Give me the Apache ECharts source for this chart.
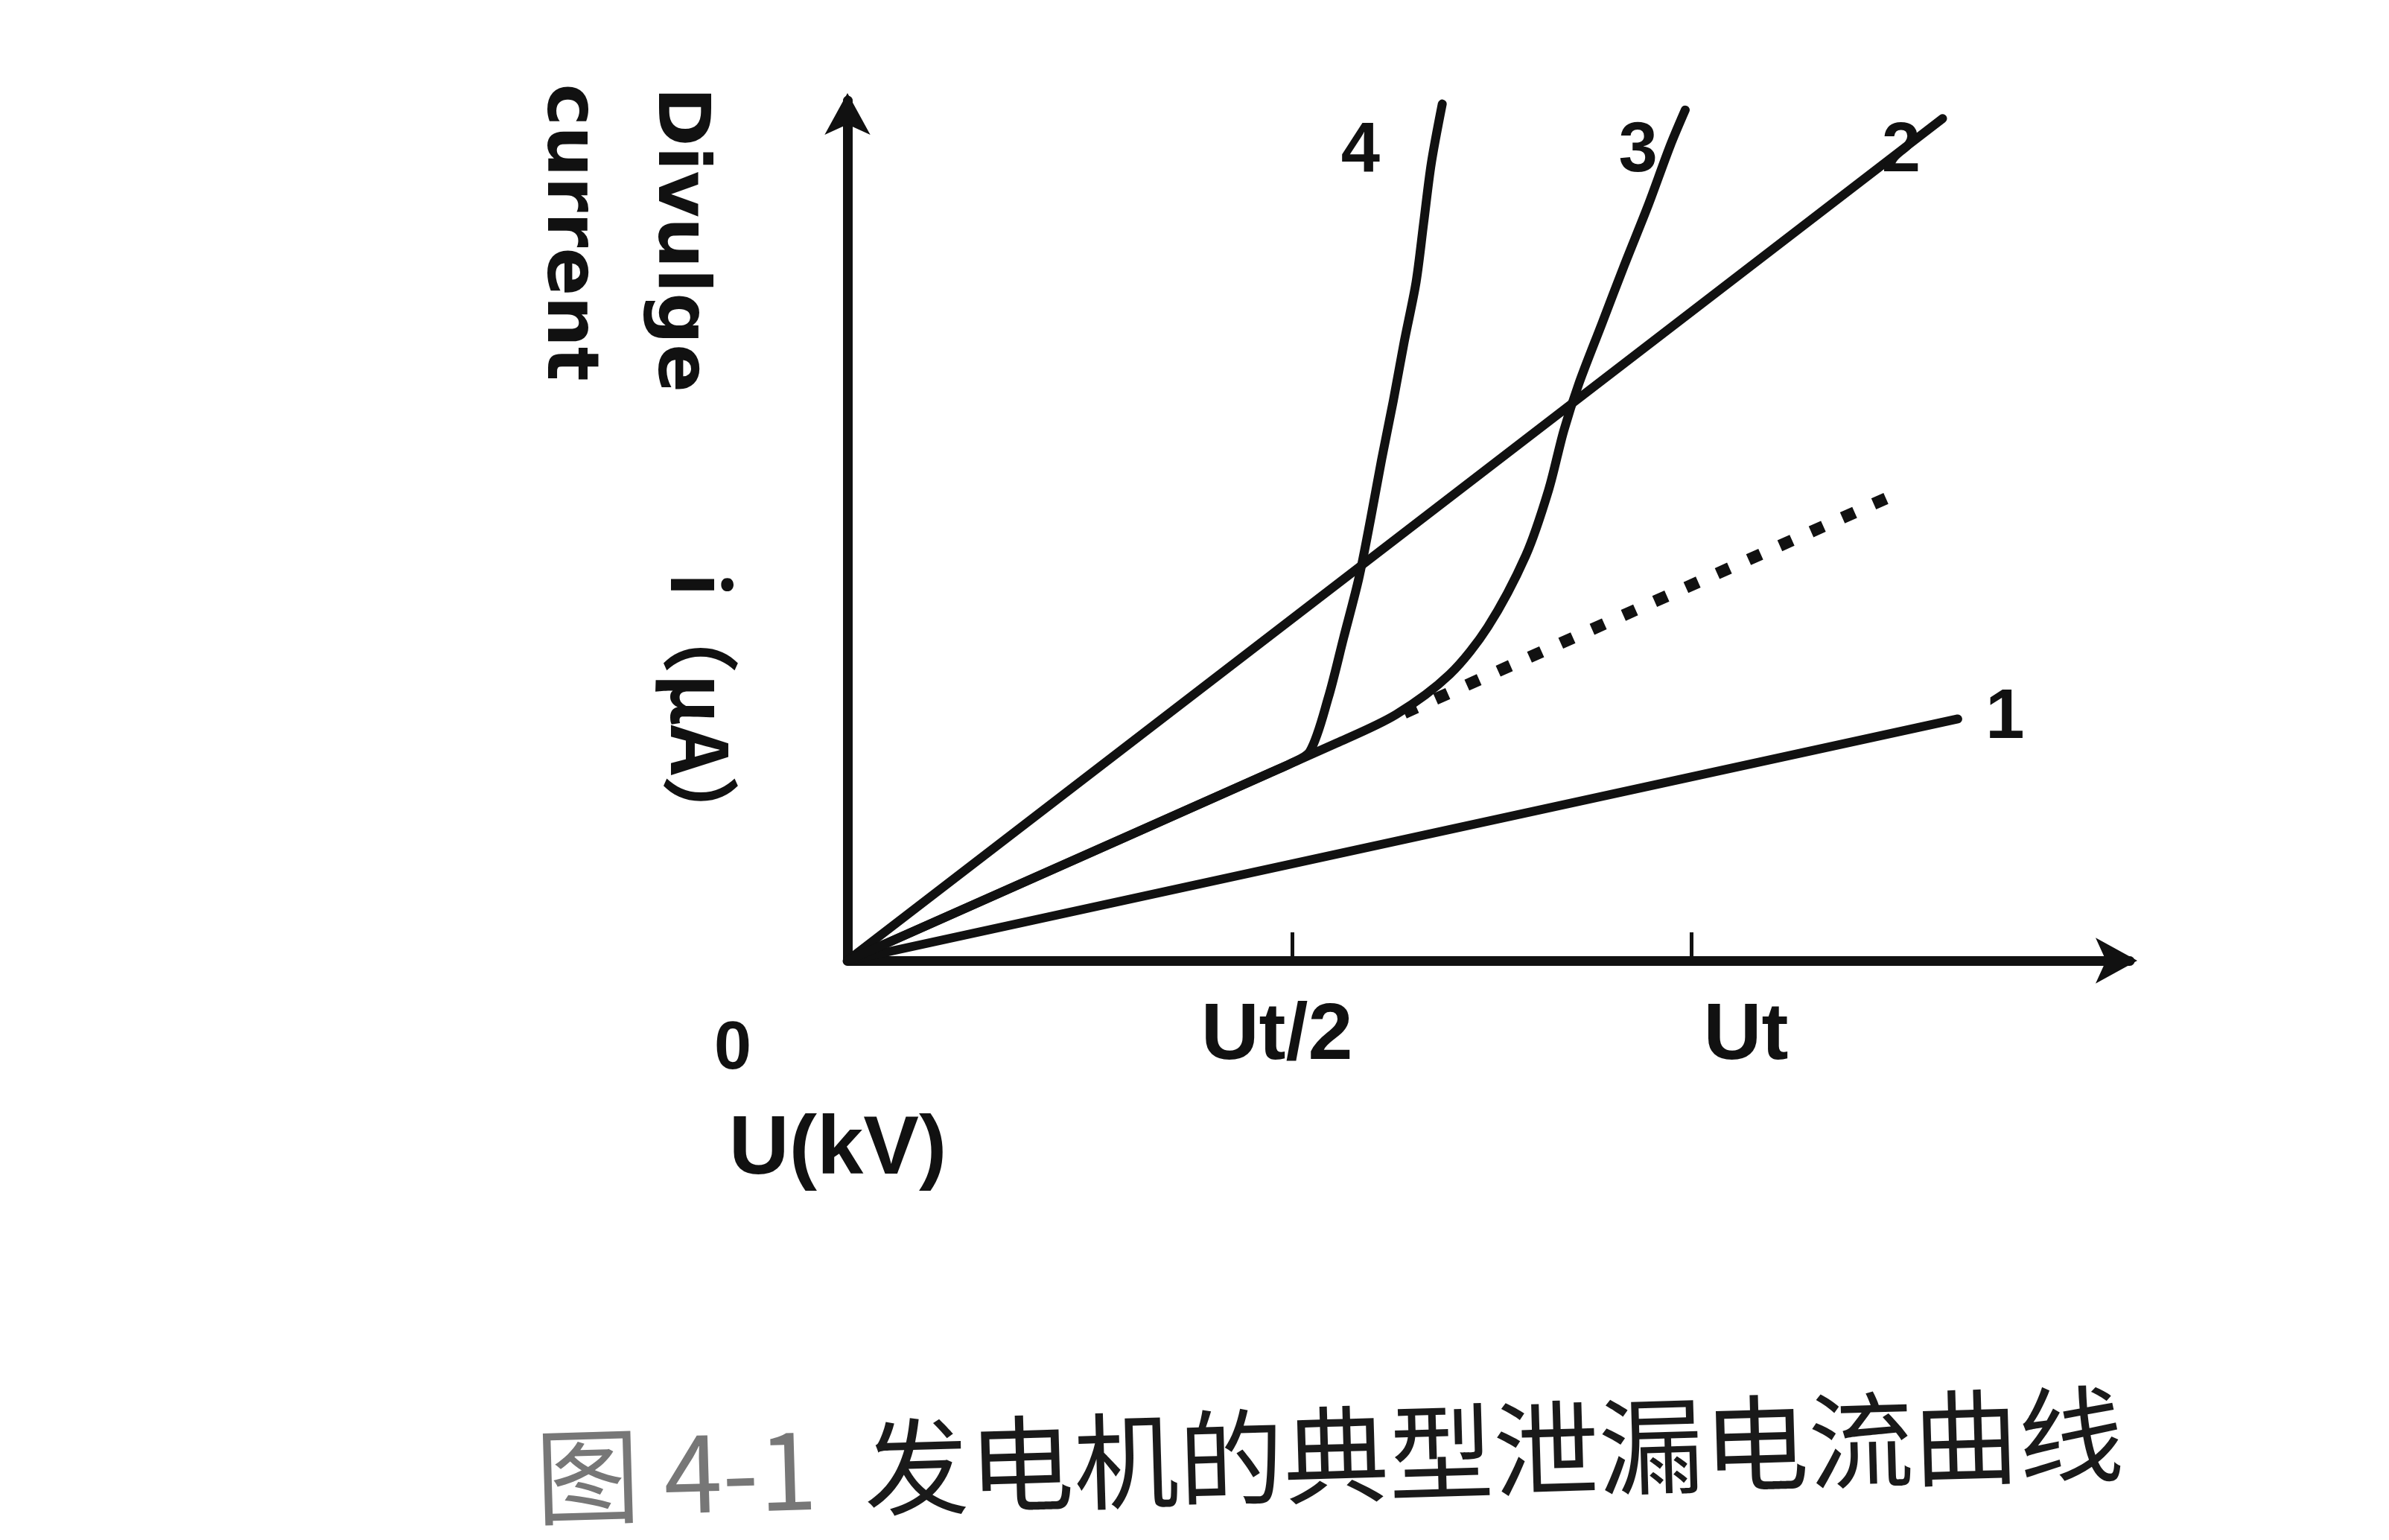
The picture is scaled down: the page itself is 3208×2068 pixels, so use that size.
<!DOCTYPE html>
<html>
<head>
<meta charset="utf-8">
<script src="https://cdn.jsdelivr.net/npm/echarts@6/dist/echarts.min.js"></script>
<style>
html,body{margin:0;padding:0;background:#ffffff;}
#chart{width:3208px;height:2068px;}
</style>
</head>
<body>
<div id="chart"></div>
<script>
// ---- data (x in units of Ut, y in arbitrary current units 0..100) ----
var curve1 = [[0, 0], [1.316, 28.1]];
var curve2 = [[0, 0], [1.298, 97.9]];
var curve3 = [[0, 0], [0.58, 25.3], [0.65, 28.6], [0.714, 33.3], [0.759, 38.8], [0.804, 47.1], [0.831, 54.7], [0.849, 61.6], [0.867, 67.1], [0.894, 74.0], [0.921, 80.9], [0.949, 87.8], [0.975, 94.7], [0.993, 98.9]];
var curve4 = [[0, 0], [0.50, 21.8], [0.525, 22.9], [0.548, 24.3], [0.570, 30.6], [0.588, 37.5], [0.606, 44.4], [0.620, 51.3], [0.633, 58.2], [0.647, 65.1], [0.660, 72.0], [0.674, 78.9], [0.683, 85.8], [0.692, 92.7], [0.705, 99.6]];
var extrapolated = [[0.66, 28.8], [1.253, 54.7]];
var curveNames = ['1', '2', '3', '4'];
var curveLabelPos = [[1.372, 28.1], [1.249, 94.0], [0.937, 94.0], [0.608, 94.0]];
var xTickValues = [0.527, 1.0];
var xLabelValues = [0.509, 1.065];
var xLabelTexts = ['Ut/2', 'Ut'];
var xMax = 1.52;
var yMax = 100;

var INK = '#111111';
var chart = echarts.init(document.getElementById('chart'), null, {renderer: 'canvas'});

function labelPoint(i) {
  return {
    symbol: 'circle', symbolSize: 1,
    itemStyle: {color: 'rgba(0,0,0,0)'},
    label: {show: true, position: 'inside', formatter: curveNames[i], color: INK,
      fontSize: 94, fontWeight: 'bold', fontFamily: 'Liberation Sans, Arial, sans-serif'},
    data: [{coord: curveLabelPos[i]}]
  };
}
function lineSeries(name, data, idx, extra) {
  var s = {
    name: name, type: 'line', data: data, symbol: 'none', silent: true,
    lineStyle: {color: INK, width: 12, cap: 'round', join: 'round'},
    markPoint: labelPoint(idx), z: 3
  };
  for (var k in extra) s[k] = extra[k];
  return s;
}

var option = {
  backgroundColor: '#ffffff',
  animation: false,
  grid: {left: 1138, right: 348, top: 135, bottom: 778, containLabel: false},
  xAxis: {
    type: 'value', min: 0, max: xMax,
    axisLine: {show: true, symbol: ['none', 'arrow'], symbolSize: [46, 56], symbolOffset: [0, 10],
      lineStyle: {color: INK, width: 13}},
    axisTick: {show: true, inside: true, length: 38, customValues: xTickValues,
      lineStyle: {color: INK, width: 5}},
    axisLabel: {show: true, customValues: xLabelValues, margin: 48,
      formatter: function (v) {
        for (var i = 0; i < xLabelValues.length; i++) if (Math.abs(v - xLabelValues[i]) < 1e-6) return xLabelTexts[i];
        return '';
      },
      color: INK, fontSize: 108, fontWeight: 'bold', fontFamily: 'Liberation Sans, Arial, sans-serif'},
    splitLine: {show: false}
  },
  yAxis: {
    type: 'value', min: 0, max: yMax,
    axisLine: {show: true, symbol: ['none', 'arrow'], symbolSize: [46, 56], symbolOffset: [0, 10],
      lineStyle: {color: INK, width: 13}},
    axisTick: {show: false}, axisLabel: {show: false}, splitLine: {show: false}
  },
  series: [
    lineSeries('1', curve1, 0, {}),
    lineSeries('2', curve2, 1, {}),
    lineSeries('3', curve3, 2, {smooth: 0.3}),
    lineSeries('4', curve4, 3, {smooth: 0.3}),
    {name: 'extrapolated', type: 'line', data: extrapolated, symbol: 'none', silent: true,
      lineStyle: {color: INK, width: 16, type: [18, 28], cap: 'butt'}, z: 2}
  ],
  graphic: [
    {type: 'text', x: 984, y: 1410, style: {text: '0', fill: INK, font: 'bold 90px "Liberation Sans", Arial, sans-serif', textAlign: 'center', textVerticalAlign: 'middle'}},
    {type: 'text', x: 1125, y: 1545, style: {text: 'U(kV)', fill: INK, font: 'bold 112px "Liberation Sans", Arial, sans-serif', textAlign: 'center', textVerticalAlign: 'middle'}},
    {type: 'text', x: 910, y: 322, rotation: -Math.PI / 2, style: {text: 'Divulge', fill: INK, font: 'bold 96px "DejaVu Sans", sans-serif', textAlign: 'center', textVerticalAlign: 'middle'}},
    {type: 'text', x: 761, y: 312, rotation: -Math.PI / 2, style: {text: 'current', fill: INK, font: 'bold 96px "DejaVu Sans", sans-serif', textAlign: 'center', textVerticalAlign: 'middle'}},
    {type: 'text', x: 941, y: 957, rotation: -Math.PI / 2, style: {text: 'i（μA）', fill: INK, font: 'bold 104px "Noto Sans CJK SC", sans-serif', textAlign: 'center', textVerticalAlign: 'middle'}},
    {type: 'text', x: 1785, y: 1954, rotation: 0.028, style: {
      text: '{a|图 4-1  }{b|发电机的典型泄漏电流曲线}',
      textAlign: 'center', textVerticalAlign: 'middle',
      rich: {
        a: {fill: '#777777', fontSize: 141, fontFamily: '"Noto Sans CJK SC", sans-serif'},
        b: {fill: '#1a1a1a', fontSize: 141, fontFamily: '"Noto Sans CJK SC", sans-serif'}
      }
    }}
  ]
};
chart.setOption(option);
</script>
</body>
</html>
